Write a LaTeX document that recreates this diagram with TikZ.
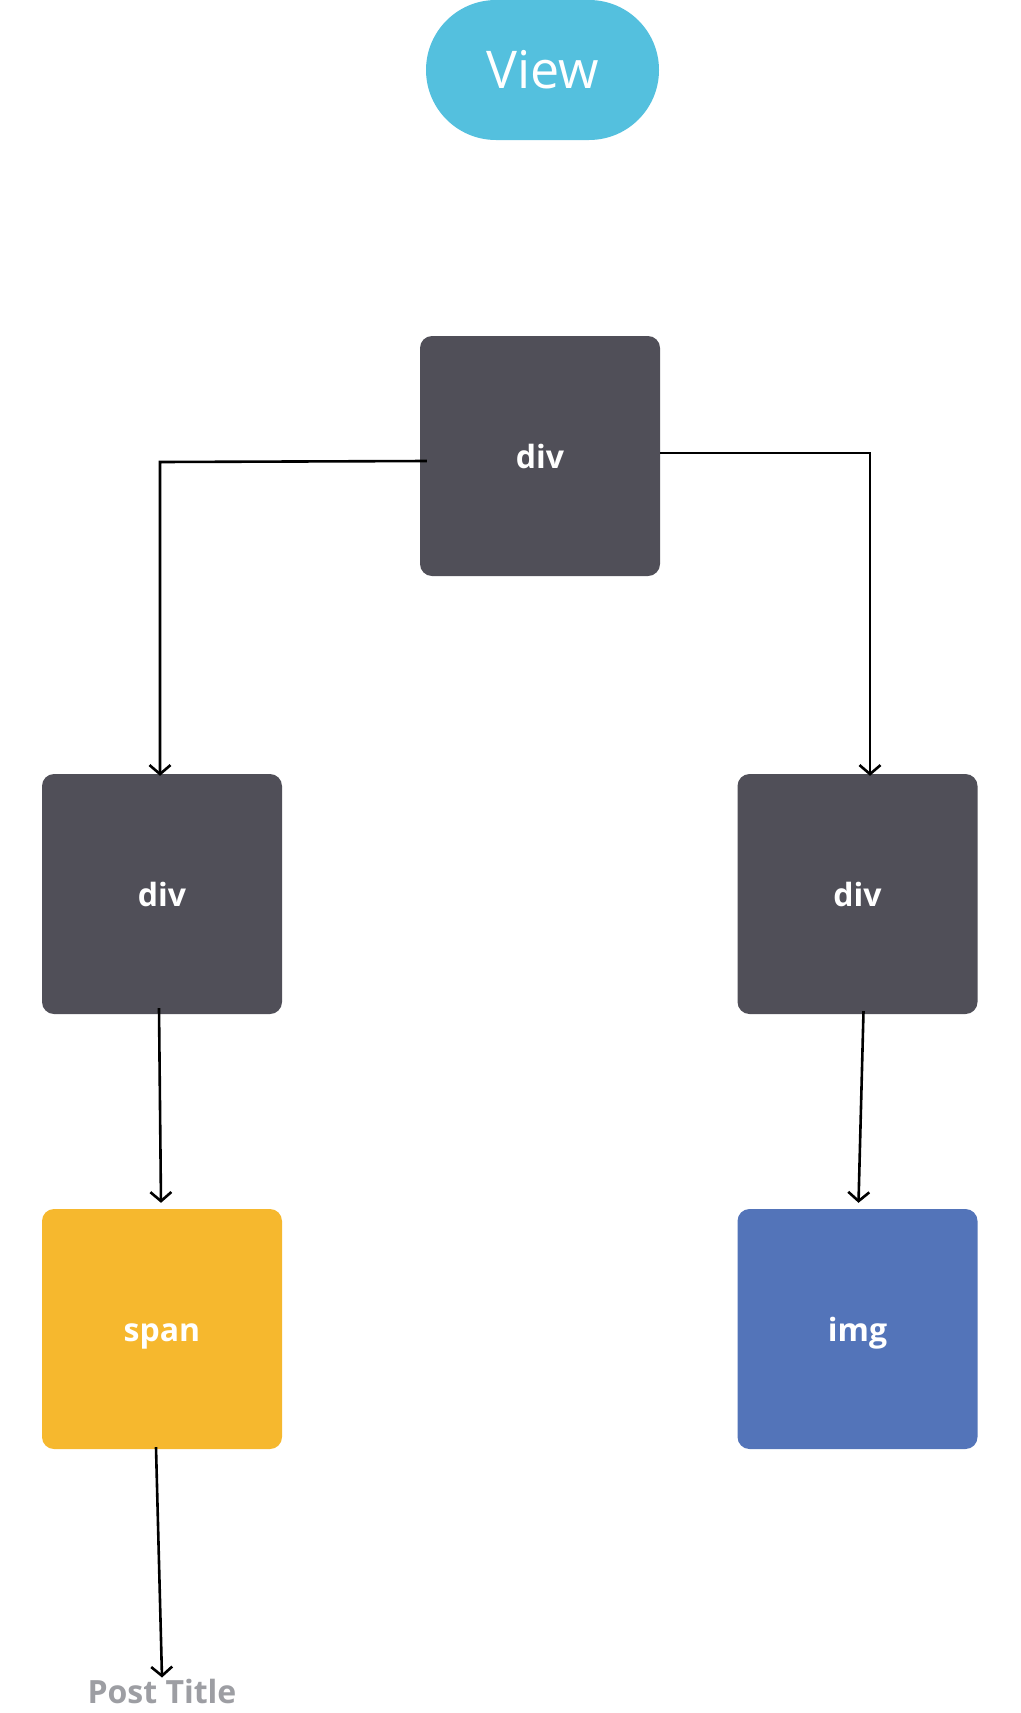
\documentclass[tikz,border=0pt]{standalone}
\usepackage{fontspec}
\setmainfont{Open Sans}
\usetikzlibrary{arrows.meta}
\definecolor{pillblue}{HTML}{54C0DE}
\definecolor{divgray}{HTML}{504F58}
\definecolor{spanyellow}{HTML}{F6B82E}
\definecolor{imgblue}{HTML}{5374B9}
\definecolor{titlegray}{HTML}{9D9EA3}
\tikzset{
  box/.style={rectangle, rounded corners=12pt, minimum width=240pt, minimum height=240pt, inner sep=0pt, text=white, text height=24pt, text depth=0pt, font=\fontsize{32}{38}\selectfont\bfseries},
  pill/.style={rectangle, rounded corners=70pt, minimum width=233pt, minimum height=140pt, inner sep=0pt, fill=pillblue, text=white, font=\fontsize{52}{60}\selectfont},
  conn/.style={line width=2.6pt, -{Straight Barb[length=9pt,width=21pt,line width=2.6pt]}}
}
\begin{document}
\begin{tikzpicture}[x=1pt,y=-1pt]
\useasboundingbox (0,0) rectangle (1020,1713);
\node[pill] (view) at (542.5,70) {View};
\node[box, fill=divgray] (top) at (540,456) {div};
\node[box, fill=divgray] (ldiv) at (162,894) {div};
\node[box, fill=divgray] (rdiv) at (857.5,894) {div};
\node[box, fill=spanyellow] (span) at (162,1329) {span};
\node[box, fill=imgblue] (img) at (857.5,1329) {img};
\node[font=\fontsize{32}{38}\selectfont\bfseries, text=titlegray, anchor=base, inner sep=3pt] (title) at (162,1703) {Post Title};
\coordinate (lbend) at (160,462);
\coordinate (rbend) at (870,453);
\draw[conn] ([yshift=-5pt,xshift=7pt]top.west) -- (lbend) -- ([yshift=-2pt]lbend |- ldiv.north);
\draw[conn] ([yshift=3pt]top.east) -- (rbend) -- ([yshift=-2pt]rbend |- rdiv.north);
\draw[conn] ([xshift=-3pt,yshift=6pt]ldiv.south) -- ([xshift=-1pt,yshift=6pt]span.north);
\draw[conn] ([xshift=6pt,yshift=3pt]rdiv.south) -- ([xshift=1pt,yshift=6pt]img.north);
\draw[conn] ([xshift=-6pt,yshift=2pt]span.south) -- ([yshift=-2pt]title.north);
\end{tikzpicture}
\end{document}
